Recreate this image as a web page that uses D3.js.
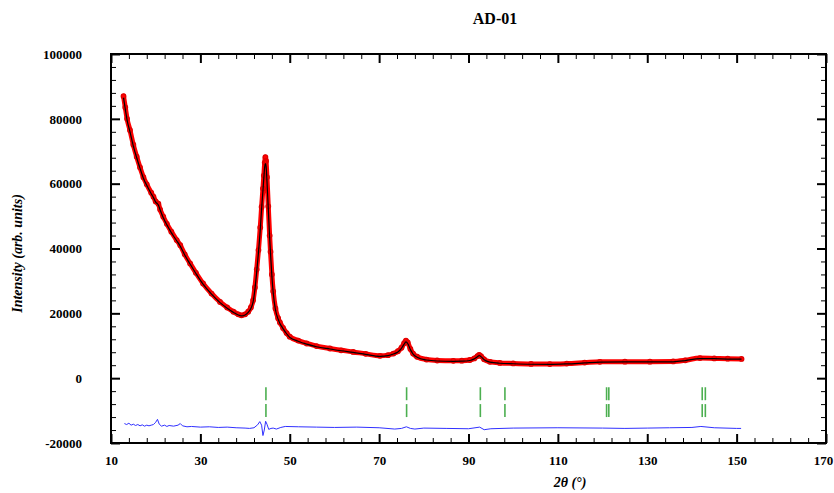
<!DOCTYPE html>
<html>
<head>
<meta charset="utf-8">
<script src="https://cdn.jsdelivr.net/npm/d3@7"></script>
<style>
  body { margin: 0; background: #fff; }
  text { font-family: "Liberation Serif", "Times New Roman", serif; }
</style>
</head>
<body>
<div id="chart"></div>
<script>
// AD-01 Rietveld-style plot: observed (red), calculated (black), difference (blue), reflections (green)
const width = 834, height = 493;
const margin = {top: 54, right: 8, bottom: 50, left: 111};

// 2theta grid of observed / calculated values
const twoTheta = [12.8, 13.2, 13.6, 14.25, 15.0, 15.75, 16.5, 17.25, 18.0, 19.0, 19.5, 20.0, 20.6, 21.0,
  21.7, 22.5, 23.5, 24.7, 25.5, 26.5, 27.7, 29.0, 30.6, 32.5, 34.4, 36.0, 37.4, 38.5, 39.2, 40.0,
  40.7, 41.3, 41.8, 42.2, 42.6, 43.0, 43.4, 43.7, 44.0, 44.2, 44.4, 44.55, 44.7, 44.9, 45.2, 45.5,
  45.7, 46.0, 46.3, 46.8, 47.4, 47.8, 48.5, 49.3, 50.0, 51.9, 53.8, 56.0, 59.0, 61.5, 64.2, 67.0,
  70.2, 72.0, 73.2, 74.2, 75.0, 75.6, 76.0, 76.4, 77.0, 77.6, 78.5, 80.6, 83.0, 86.6, 88.5, 90.3,
  91.3, 92.0, 92.4, 92.8, 93.5, 94.8, 97.0, 100, 104, 108.2, 112, 116, 119.4, 125, 130.6, 135.8,
  138.5, 141.8, 145, 148, 151.1];

const observed = [87000, 83500, 80000, 76500, 72000, 68300, 65000, 62000, 59800, 57200, 56000, 54500, 53800, 52000,
  49800, 47600, 45200, 42600, 41000, 38200, 35400, 32500, 29200, 26100, 23500, 21800, 20500, 19700, 19400, 19700,
  20500, 21800, 24000, 28000, 33500, 39500, 46500, 52800, 58500, 62500, 66500, 68200, 67000, 62000, 53000, 44000,
  39000, 32000, 26800, 21500, 18500, 17200, 15500, 13900, 12800, 11600, 10700, 9900, 9150, 8600, 8100, 7500,
  6900, 7100, 7600, 8300, 9400, 10800, 11600, 11000, 9000, 7600, 6600, 5750, 5450, 5350, 5400, 5600,
  6100, 6800, 7200, 6800, 5800, 5050, 4700, 4550, 4400, 4350, 4500, 4800, 5050, 5100, 5100, 5150,
  5500, 6200, 6100, 6000, 5950];

const calculated = [86500, 83000, 79600, 76000, 71600, 68000, 64700, 61700, 59500, 56900, 55700, 54300, 53400, 51900,
  49500, 47300, 44900, 42400, 40700, 38000, 35200, 32300, 29000, 25900, 23300, 21600, 20300, 19500, 19200, 19500,
  20300, 21500, 23500, 27300, 32700, 38800, 45800, 52200, 57800, 61800, 65300, 66200, 65400, 60800, 52200, 43300,
  38400, 31500, 26300, 21100, 18200, 16900, 15300, 13700, 12600, 11400, 10500, 9700, 9000, 8450, 7950, 7350,
  6750, 6950, 7450, 8100, 9200, 10500, 11200, 10700, 8800, 7450, 6450, 5600, 5300, 5200, 5250, 5450,
  5950, 6600, 7000, 6650, 5700, 4950, 4600, 4450, 4300, 4250, 4400, 4700, 4950, 5000, 5000, 5050,
  5400, 6050, 6000, 5900, 5850];

// difference curve (obs - calc, offset)
const diffTheta = [13, 13.5, 14, 14.5, 15, 15.5, 16, 16.5, 17, 17.5, 18, 18.5, 19, 19.5, 20, 20.4, 20.8,
  21.3, 22, 22.5, 23, 24, 25, 25.5, 26, 27, 28, 30, 32, 34, 36, 38, 40, 41, 42, 42.8, 43.3, 43.7,
  44.0, 44.3, 44.6, 44.9, 45.3, 45.8, 46.3, 47, 48, 49, 52, 56, 60, 65, 70, 73.5, 75, 76.1, 77, 78,
  80, 85, 90, 92.5, 93.5, 95, 100, 110, 120, 125, 130, 135, 140, 142, 145, 150, 151];
const difference = [-14000, -14300, -13900, -14500, -14200, -14600, -14300, -14700, -14400, -14800, -14500, -14700,
  -14500, -14300, -13600, -12700, -14200, -14800, -14500, -14900, -14600, -14800, -14500, -14000, -14700, -15000,
  -14900, -15100, -15000, -15200, -15100, -15300, -15400, -15500, -15300, -14400, -13400, -14500, -17700, -16000,
  -13300, -14200, -15800, -15500, -15400, -15700, -15200, -14900, -15000, -15100, -15200, -15100, -15300, -15700,
  -15500, -15000, -15500, -15700, -15400, -15500, -15600, -15100, -15900, -15600, -15400, -15300, -15400, -15500,
  -15400, -15300, -15200, -14900, -15300, -15500, -15500];

// Bragg reflection positions (two rows)
const reflections = [44.67, 76.15, 92.65, 98.15, 120.9, 121.4, 142.3, 143.0];
const reflRows = [-4800, -10000];

const xMajor = d3.range(10, 171, 20);
const xMinor = d3.range(10, 171, 4).filter(v => (v - 10) % 20 !== 0);
const yMajor = d3.range(-20000, 100001, 20000);
const yMinor = d3.range(-20000, 100001, 4000).filter(v => v % 20000 !== 0);

let svg = d3.select("#chart")
  .append("svg")
  .attr("width", width)
  .attr("height", height);

let x = d3.scaleLinear().domain([10, 170]).range([margin.left, width - margin.right]);
let y = d3.scaleLinear().domain([-20000, 100000]).range([height - margin.bottom, margin.top]);

const x0 = x.range()[0], x1 = x.range()[1], yB = y.range()[0], yT = y.range()[1];

// axes: major and minor ticks pointing inward on all sides
function styleAxis(g, w) {
  g.select(".domain").remove();
  g.selectAll(".tick line").attr("stroke", "#000").attr("stroke-width", w);
  g.selectAll("text").attr("font-size", "13px").attr("font-weight", "bold").attr("fill", "#000");
}

svg.append("g").attr("transform", `translate(0,${yB})`)
  .call(d3.axisBottom(x).tickValues(xMajor).tickSizeInner(-9).tickSizeOuter(0).tickPadding(13).tickFormat(d => String(d)))
  .call(g => styleAxis(g, 2))
  .call(g => g.selectAll(".tick text").filter(d => d === 170).attr("dx", "-3"));
svg.append("g").attr("transform", `translate(0,${yB})`)
  .call(d3.axisBottom(x).tickValues(xMinor).tickSizeInner(-5).tickSizeOuter(0).tickFormat(""))
  .call(g => styleAxis(g, 1));
svg.append("g").attr("transform", `translate(0,${yT})`)
  .call(d3.axisTop(x).tickValues(xMajor).tickSizeInner(-9).tickSizeOuter(0).tickFormat(""))
  .call(g => styleAxis(g, 2));
svg.append("g").attr("transform", `translate(0,${yT})`)
  .call(d3.axisTop(x).tickValues(xMinor).tickSizeInner(-5).tickSizeOuter(0).tickFormat(""))
  .call(g => styleAxis(g, 1));

svg.append("g").attr("transform", `translate(${x0},0)`)
  .call(d3.axisLeft(y).tickValues(yMajor).tickSizeInner(-9).tickSizeOuter(0).tickPadding(29).tickFormat(d => String(d)))
  .call(g => styleAxis(g, 2));
svg.append("g").attr("transform", `translate(${x0},0)`)
  .call(d3.axisLeft(y).tickValues(yMinor).tickSizeInner(-5).tickSizeOuter(0).tickFormat(""))
  .call(g => styleAxis(g, 1));
svg.append("g").attr("transform", `translate(${x1},0)`)
  .call(d3.axisRight(y).tickValues(yMajor).tickSizeInner(-9).tickSizeOuter(0).tickFormat(""))
  .call(g => styleAxis(g, 2));
svg.append("g").attr("transform", `translate(${x1},0)`)
  .call(d3.axisRight(y).tickValues(yMinor).tickSizeInner(-5).tickSizeOuter(0).tickFormat(""))
  .call(g => styleAxis(g, 1));

// frame
svg.append("rect")
  .attr("x", x0).attr("y", yT)
  .attr("width", x1 - x0).attr("height", yB - yT)
  .attr("fill", "none").attr("stroke", "#000").attr("stroke-width", 2);

// reflection markers
reflRows.forEach(function(r) {
  svg.append("g").selectAll("line").data(reflections).enter()
    .append("line")
    .attr("x1", d => x(d)).attr("x2", d => x(d))
    .attr("y1", y(r + 2000)).attr("y2", y(r - 2000))
    .attr("stroke", "#4caf50").attr("stroke-width", 1.6);
});

// difference curve
svg.append("path")
  .datum(diffTheta.map((t, i) => [t, difference[i]]))
  .attr("fill", "none").attr("stroke", "#3030ff").attr("stroke-width", 1)
  .attr("d", d3.line().x(d => x(d[0])).y(d => y(d[1])));

// observed: thick red band with open circles
const obsData = twoTheta.map((t, i) => [t, observed[i]]);
svg.append("path")
  .datum(obsData)
  .attr("fill", "none").attr("stroke", "#ff0000").attr("stroke-width", 5)
  .attr("stroke-linejoin", "round").attr("stroke-linecap", "round")
  .attr("d", d3.line().curve(d3.curveMonotoneX).x(d => x(d[0])).y(d => y(d[1])));
svg.append("g").selectAll("circle").data(obsData).enter()
  .append("circle")
  .attr("cx", d => x(d[0])).attr("cy", d => y(d[1]))
  .attr("r", 2.3)
  .attr("fill", "none").attr("stroke", "#e00000").attr("stroke-width", 1.2);

// calculated
svg.append("path")
  .datum(twoTheta.map((t, i) => [t, calculated[i]]))
  .attr("fill", "none").attr("stroke", "#000").attr("stroke-width", 1.2)
  .attr("d", d3.line().curve(d3.curveMonotoneX).x(d => x(d[0])).y(d => y(d[1])));

// titles
svg.append("text")
  .attr("x", 495).attr("y", 24)
  .attr("text-anchor", "middle")
  .attr("font-size", "16px").attr("font-weight", "bold")
  .text("AD-01");

svg.append("text")
  .attr("transform", `translate(22,${(yT + yB) / 2 + 5}) rotate(-90)`)
  .attr("text-anchor", "middle")
  .attr("font-size", "14px").attr("font-weight", "bold").attr("font-style", "italic")
  .text("Intensity (arb. units)");

svg.append("text")
  .attr("x", 570).attr("y", 487)
  .attr("text-anchor", "middle")
  .attr("font-size", "14px").attr("font-weight", "bold").attr("font-style", "italic")
  .text("2θ (°)");
</script>
</body>
</html>
